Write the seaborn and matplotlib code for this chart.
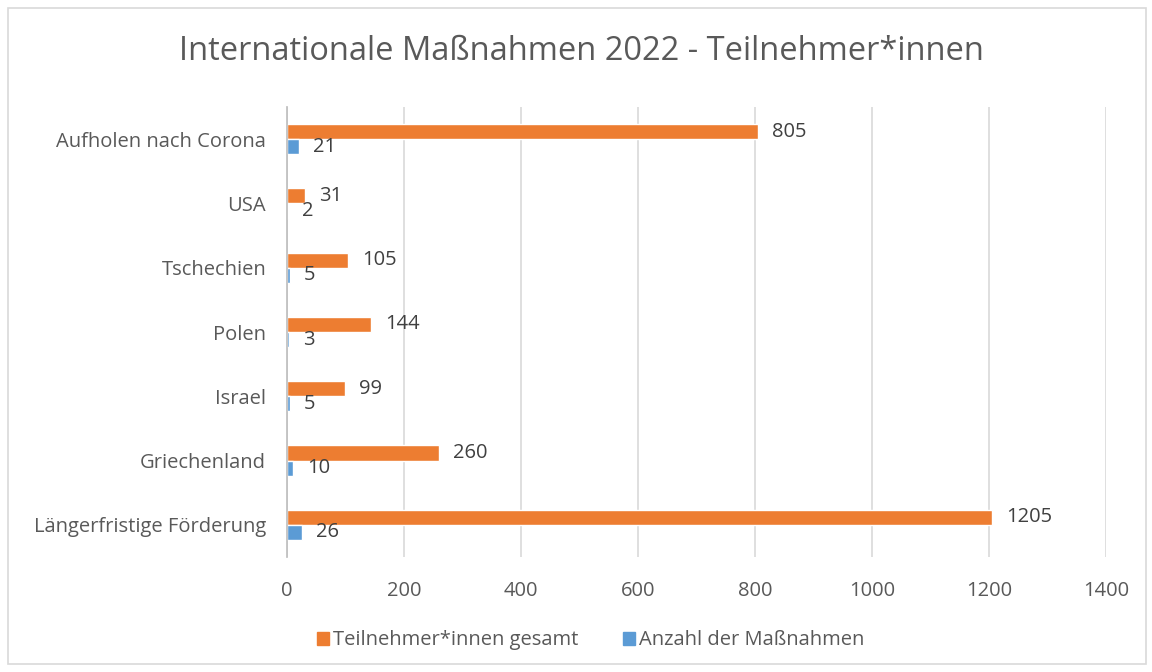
import matplotlib
matplotlib.use("Agg")
import matplotlib.pyplot as plt
import seaborn as sns
import pandas as pd
from matplotlib.patches import Rectangle

categories = ["Aufholen nach Corona", "USA", "Tschechien", "Polen", "Israel",
              "Griechenland", "Längerfristige Förderung"]
teilnehmer = [805, 31, 105, 144, 99, 260, 1205]
massnahmen = [21, 2, 5, 3, 5, 10, 26]
series_names = ["Teilnehmer*innen gesamt", "Anzahl der Maßnahmen"]
xticks = [0, 200, 400, 600, 800, 1000, 1200, 1400]

sns.set_theme(style="white")
plt.rcParams["font.family"] = ["Open Sans", "DejaVu Sans"]

df = pd.DataFrame({
    "Kategorie": categories * 2,
    "Wert": teilnehmer + massnahmen,
    "Serie": [series_names[0]] * len(categories) + [series_names[1]] * len(categories),
})

fig = plt.figure(figsize=(11.52, 6.72), dpi=100)
ax = fig.add_axes([0.2491, 0.1711, 0.9600 - 0.2491, 0.8408 - 0.1711])

palette = {series_names[0]: "#ED7D31", series_names[1]: "#5B9BD5"}
sns.barplot(data=df, y="Kategorie", x="Wert", hue="Serie", order=categories,
            hue_order=series_names, palette=palette, orient="h", width=0.47,
            saturation=1, ax=ax, legend=False)

for cont in ax.containers:
    ax.bar_label(cont, padding=10, fontsize=14.5, color="#404040")

ax.set_xlim(0, 1400)
ax.set_xticks(xticks)
ax.set_xticklabels([str(t) for t in xticks])
ax.set_xlabel("")
ax.set_ylabel("")
ax.grid(axis="x", color="#D9D9D9", linewidth=1.2)
ax.set_axisbelow(True)
for s in ["top", "right", "bottom"]:
    ax.spines[s].set_visible(False)
ax.spines["left"].set_color("#BFBFBF")
ax.tick_params(axis="x", labelsize=14.5, labelcolor="#595959", pad=17, length=0)
ax.tick_params(axis="y", labelsize=14.5, labelcolor="#595959", pad=15, length=0)

fig.text(0.505, 0.923, "Internationale Maßnahmen 2022 - Teilnehmer*innen",
         ha="center", va="center", fontsize=23.5, color="#595959")

handles = [Rectangle((0, 0), 1, 1, color=palette[n]) for n in series_names]
fig.legend(handles, series_names, loc="center", bbox_to_anchor=(0.513, 0.047),
           ncol=2, frameon=False, fontsize=14.5, labelcolor="#595959",
           handlelength=0.6, handleheight=0.6, handletextpad=0.2, columnspacing=2.2)

fig.add_artist(Rectangle((0.007, 0.012), 0.988, 0.976, transform=fig.transFigure,
                         fill=False, edgecolor="#D9D9D9", linewidth=1.2))

fig.savefig("out.png", dpi=100)
